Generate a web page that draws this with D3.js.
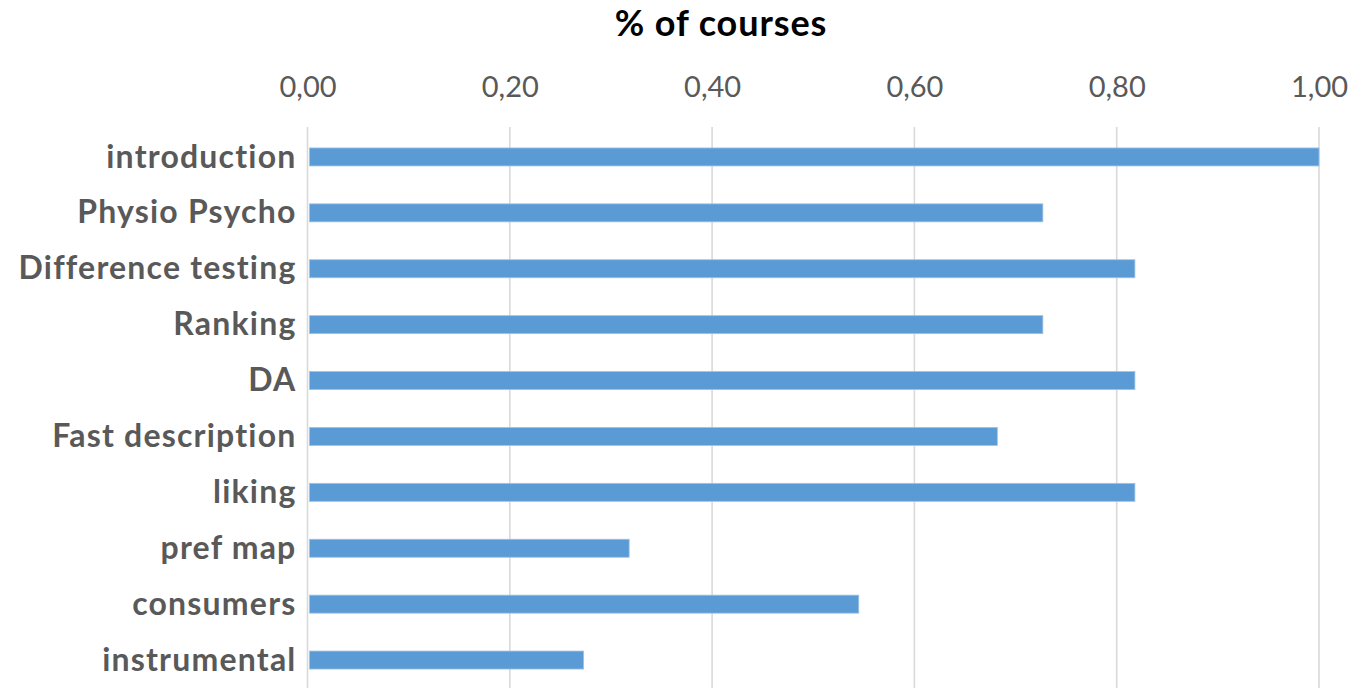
<!DOCTYPE html>
<html>
<head>
<meta charset="utf-8">
<script src="https://cdn.jsdelivr.net/npm/d3@7"></script>
<style>
  html, body { margin: 0; padding: 0; background: #ffffff; }
  svg { display: block; }
</style>
</head>
<body>
<svg id="chart" width="1359" height="692"></svg>
<script>
const categories = ["introduction", "Physio Psycho", "Difference testing", "Ranking", "DA",
  "Fast description", "liking", "pref map", "consumers", "instrumental"];
const values = [1.0, 0.727, 0.818, 0.727, 0.818, 0.682, 0.818, 0.318, 0.545, 0.273];
const tickValues = [0, 0.2, 0.4, 0.6, 0.8, 1.0];
const titleText = "% of courses";

const svg = d3.select("#chart");
const x = d3.scaleLinear().domain([0, 1]).range([307.5, 1319]);
const y = d3.scaleBand().domain(categories).range([129, 688]).paddingInner(0.678).paddingOuter(0.339);

// gridlines
svg.append("g").selectAll("line").data(tickValues).join("line")
  .attr("x1", d => x(d)).attr("x2", d => x(d))
  .attr("y1", 127).attr("y2", 688)
  .attr("stroke", "#d9d9d9").attr("stroke-width", 1.6);

// top axis labels
const axis = d3.axisTop(x).tickValues(tickValues).tickSize(0).tickPadding(0)
  .tickFormat(d => d3.format(".2f")(d).replace(".", ","));
const ag = svg.append("g").attr("transform", "translate(0,97)").call(axis);
ag.select(".domain").remove();
ag.selectAll("text")
  .attr("font-family", "Lato, 'Open Sans', sans-serif")
  .attr("font-size", 29)
  .attr("fill", "#595959")
  .attr("dy", 0);

// bars
const barH = 18;
svg.append("g").selectAll("rect").data(values).join("rect")
  .attr("x", x(0) + 2)
  .attr("y", (d, i) => y(categories[i]) + y.bandwidth() / 2 - barH / 2)
  .attr("width", d => x(d) - x(0) - 2)
  .attr("height", barH)
  .attr("fill", "#5b9bd5")
  .attr("stroke", "#9dc3e6")
  .attr("stroke-width", 0.8);

// category labels
const yAxis = d3.axisLeft(y).tickSize(0).tickPadding(0);
const yg = svg.append("g").attr("transform", "translate(296.5,0)").call(yAxis);
yg.select(".domain").remove();
yg.selectAll("text")
  .attr("font-family", "Lato, 'Open Sans', sans-serif")
  .attr("font-weight", "bold")
  .attr("font-size", 32)
  .attr("letter-spacing", "1.2px")
  .attr("fill", "#595959")
  .attr("dy", "0.33em");

// title
svg.append("text")
  .attr("x", 721).attr("y", 36)
  .attr("text-anchor", "middle")
  .attr("font-family", "Lato, 'Open Sans', sans-serif")
  .attr("font-weight", "bold")
  .attr("font-size", 36)
  .attr("letter-spacing", "0.9px")
  .attr("fill", "#000000")
  .text(titleText);
</script>
</body>
</html>
